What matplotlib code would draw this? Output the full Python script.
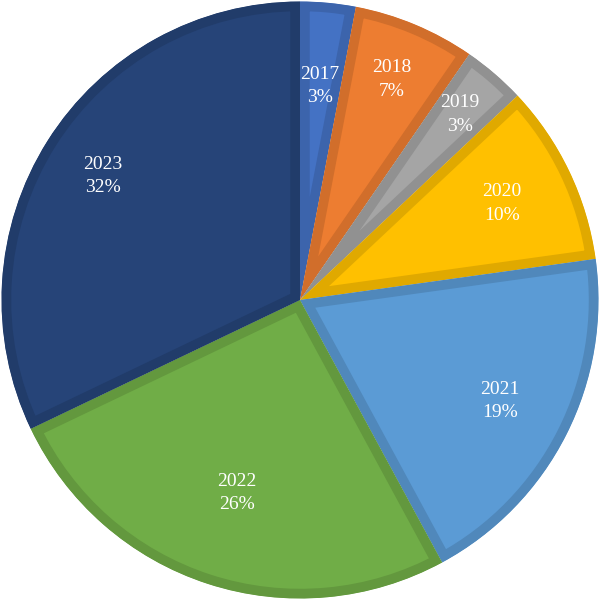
import numpy as np
import matplotlib
matplotlib.use("Agg")
import matplotlib.pyplot as plt
import matplotlib.colors as mcolors

# 연도별 비율 (라벨은 반올림 값)
years = ["2017", "2018", "2019", "2020", "2021", "2022", "2023"]
values = [3.0, 6.6, 3.4, 9.8, 19.3, 25.8, 32.1]
colors = ["#4472C4", "#ED7D31", "#A5A5A5", "#FFC000", "#5B9BD5", "#70AD47", "#264478"]
# 라벨 위치(중심에서의 거리, 반지름 비율)
label_r = [0.72, 0.80, 0.82, 0.75, 0.75, 0.68, 0.78]

plt.rcParams["font.family"] = ["Liberation Serif", "DejaVu Serif"]

fig = plt.figure(figsize=(6, 6), dpi=100)
ax = fig.add_axes([0, 0, 1, 1])

wedges, _ = ax.pie(values, colors=colors, startangle=90, counterclock=False,
                   radius=1.0)

total = sum(values)
for w, c, y, v, r in zip(wedges, colors, years, values, label_r):
    rgb = np.array(mcolors.to_rgb(c))
    w.set_edgecolor(tuple(rgb * 0.88))
    w.set_linewidth(14)
    # 테두리를 조각 안쪽으로만 보이게 (pie 는 clip_on=False 로 만듦)
    w.set_clip_on(True)
    w.set_clip_path(w)
    mid = np.deg2rad((w.theta1 + w.theta2) / 2)
    ax.text(r * np.cos(mid), r * np.sin(mid), f"{y}\n{v / total * 100:.0f}%",
            ha="center", va="center", color="white", fontsize=14,
            linespacing=1.5)

ax.set_xlim(-1.005, 1.005)
ax.set_ylim(-1.005, 1.005)
ax.set_aspect("equal")
ax.axis("off")

fig.savefig("out.png", dpi=100, facecolor="white")
